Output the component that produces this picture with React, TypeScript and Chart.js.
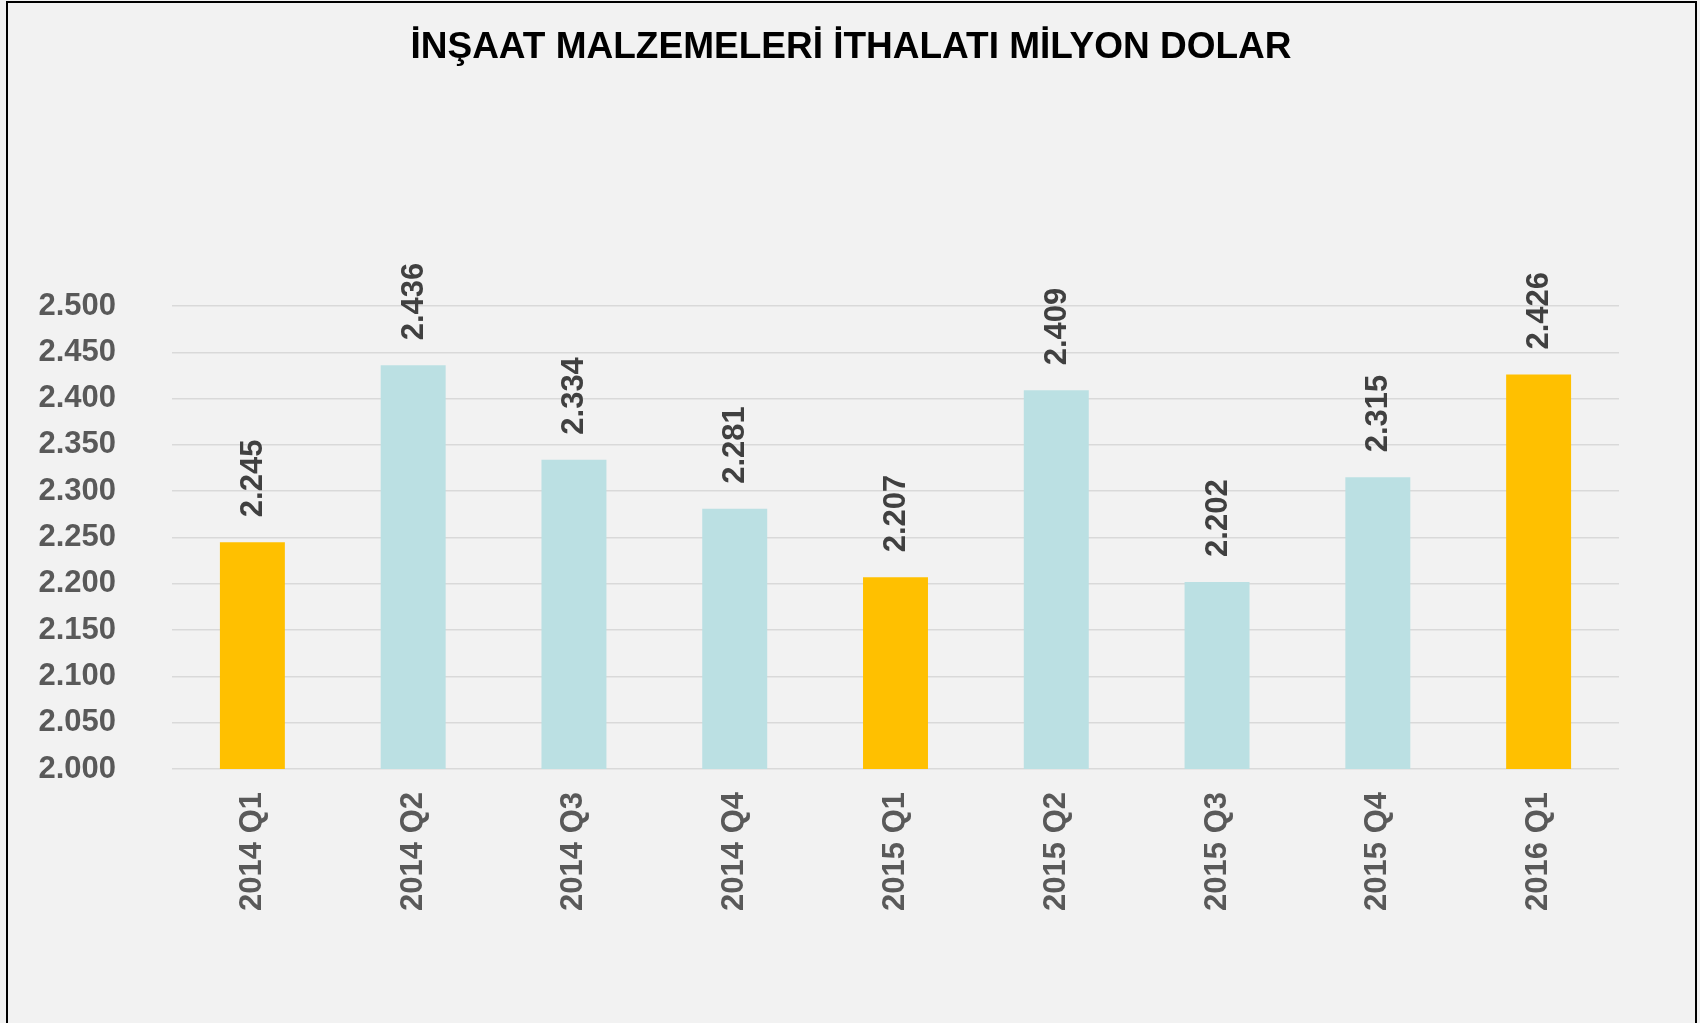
import React, { useEffect, useRef } from "react";
import { Chart, registerables } from "chart.js";

Chart.register(...registerables);

const TITLE = "İNŞAAT MALZEMELERİ İTHALATI MİLYON DOLAR";
const categories = ["2014 Q1", "2014 Q2", "2014 Q3", "2014 Q4", "2015 Q1", "2015 Q2", "2015 Q3", "2015 Q4", "2016 Q1"];
const values = [2245, 2436, 2334, 2281, 2207, 2409, 2202, 2315, 2426];
const highlighted = [true, false, false, false, true, false, false, false, true];
const yMin = 2000;
const yMax = 2500;
const yStep = 50;

const GOLD = "#FFC000";
const BLUE = "#BBE0E3";
const FONT = "'Liberation Sans', Arial, sans-serif";

const fmt = (v: number) => {
  const s = Math.round(v).toString();
  return s.replace(/\B(?=(\d{3})+(?!\d))/g, ".");
};

export default function App() {
  const ref = useRef<HTMLCanvasElement | null>(null);

  useEffect(() => {
    if (!ref.current) return;
    const bgPlugin = {
      id: "bgAndFrame",
      beforeDraw(chart: any) {
        const ctx = chart.ctx;
        ctx.save();
        ctx.fillStyle = "#f2f2f2";
        ctx.fillRect(0, 0, chart.width, chart.height);
        ctx.restore();
      },
      afterDraw(chart: any) {
        const ctx = chart.ctx;
        ctx.save();
        ctx.strokeStyle = "#000000";
        ctx.lineWidth = 2;
        ctx.strokeRect(7, 2, 1689, 1200);
        ctx.fillStyle = "#000000";
        ctx.font = `bold 37px ${FONT}`;
        ctx.textAlign = "center";
        ctx.textBaseline = "alphabetic";
        ctx.fillText(TITLE, 851, 58);
        ctx.restore();
      },
    };
    const labelPlugin = {
      id: "valueLabels",
      afterDatasetsDraw(chart: any) {
        const ctx = chart.ctx;
        const meta = chart.getDatasetMeta(0);
        ctx.save();
        ctx.fillStyle = "#404040";
        ctx.font = `bold 31px ${FONT}`;
        ctx.textAlign = "left";
        ctx.textBaseline = "middle";
        meta.data.forEach((el: any, i: number) => {
          ctx.save();
          ctx.translate(el.x, el.y - 25);
          ctx.rotate(-Math.PI / 2);
          ctx.fillText(fmt(values[i]), 0, 1);
          ctx.restore();
        });
        ctx.restore();
      },
    };

    const chart = new Chart(ref.current, {
      type: "bar",
      data: {
        labels: categories,
        datasets: [
          {
            data: values,
            backgroundColor: highlighted.map((h) => (h ? GOLD : BLUE)),
            borderWidth: 0,
            categoryPercentage: 1,
            barPercentage: 0.404,
          },
        ],
      },
      options: {
        responsive: false,
        animation: false,
        devicePixelRatio: 1,
        layout: { padding: { left: 0, right: 81, top: 306, bottom: 0 } },
        plugins: {
          legend: { display: false },
          title: { display: false },
          tooltip: { enabled: false },
        },
        scales: {
          x: {
            grid: { display: false, drawTicks: false },
            border: { display: false },
            ticks: {
              color: "#595959",
              font: { family: FONT, size: 31, weight: "bold" },
              maxRotation: 90,
              minRotation: 90,
              padding: 23,
              autoSkip: false,
            },
            afterFit(scale: any) {
              scale.height = 254;
            },
          },
          y: {
            min: yMin,
            max: yMax,
            grid: { color: "#d9d9d9", lineWidth: 1.5, drawTicks: false },
            border: { display: false },
            ticks: {
              stepSize: yStep,
              color: "#595959",
              font: { family: FONT, size: 31, weight: "bold" },
              padding: 56,
              callback: (v: any) => fmt(Number(v)),
            },
            afterFit(scale: any) {
              scale.width = 172;
            },
          },
        },
      },
      plugins: [bgPlugin, labelPlugin],
    });
    return () => chart.destroy();
  }, []);

  return (
    <div style={{ position: "fixed", left: 0, top: 0, width: 1700, height: 1023, background: "#f2f2f2" }}>
      <canvas ref={ref} width={1700} height={1023} style={{ display: "block", width: 1700, height: 1023 }} />
    </div>
  );
}
